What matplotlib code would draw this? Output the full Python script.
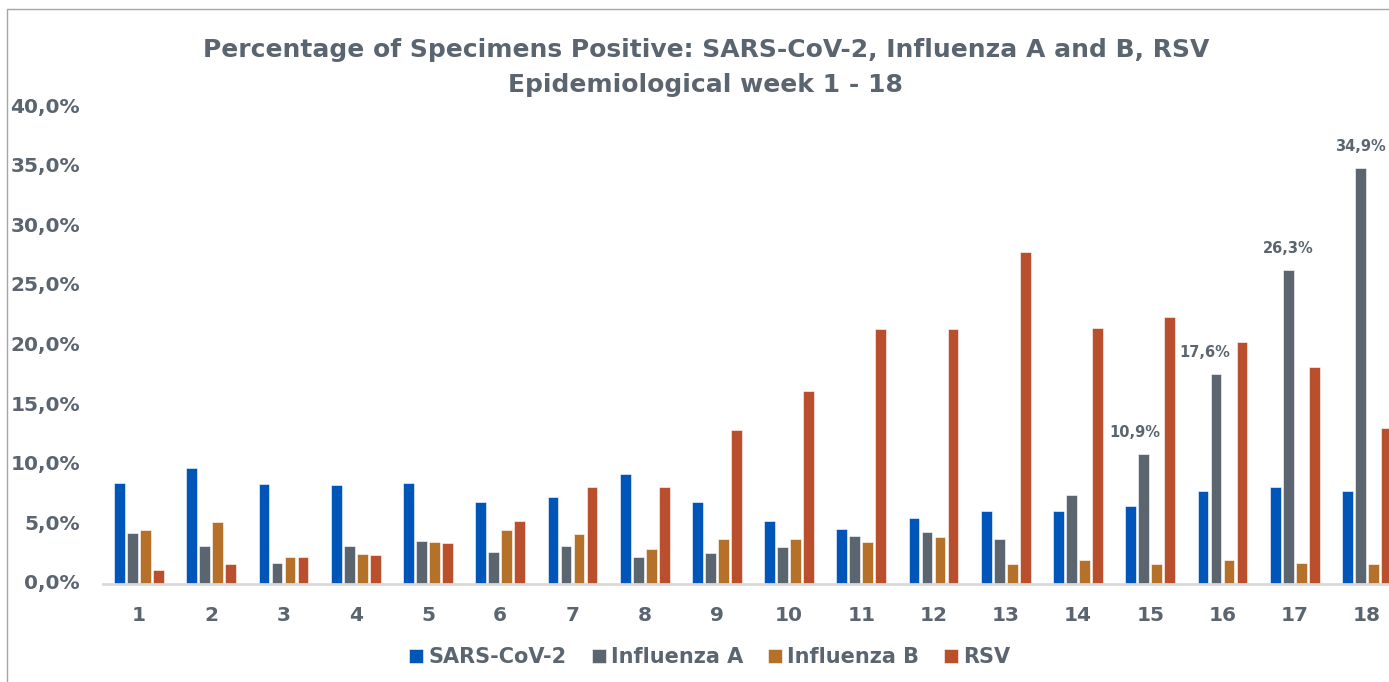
import numpy as np
import matplotlib
matplotlib.use("Agg")
import matplotlib.pyplot as plt
import matplotlib.transforms as mtransforms
from matplotlib.patches import Rectangle

weeks = [str(w) for w in range(1, 19)]
sars = [8.5, 9.7, 8.4, 8.3, 8.5, 6.9, 7.3, 9.2, 6.9, 5.3, 4.6, 5.5, 6.1, 6.1, 6.5, 7.8, 8.1, 7.8]
flu_a = [4.3, 3.2, 1.8, 3.2, 3.6, 2.7, 3.2, 2.3, 2.6, 3.1, 4.0, 4.4, 3.8, 7.5, 10.9, 17.6, 26.3, 34.9]
flu_b = [4.5, 5.2, 2.3, 2.5, 3.5, 4.5, 4.2, 2.9, 3.8, 3.8, 3.5, 3.9, 1.7, 2.0, 1.7, 2.0, 1.8, 1.7]
rsv = [1.2, 1.7, 2.3, 2.4, 3.4, 5.3, 8.1, 8.1, 12.9, 16.2, 21.4, 21.4, 27.8, 21.5, 22.4, 20.3, 18.2, 13.1]
series_names = ["SARS-CoV-2", "Influenza A", "Influenza B", "RSV"]
# weeks (0-based) with a value label on the Influenza A bar
label_weeks = [14, 15, 16, 17]
label_shift = [-0.13, -0.16, 0.0, 0.0]

colors = ["#0055B8", "#5B6570", "#B5702A", "#B94F2D"]
text_col = "#5B6570"
plt.rcParams["font.family"] = "DejaVu Sans"
plt.rcParams["font.weight"] = "bold"

fig = plt.figure(figsize=(13.89, 6.82), dpi=100)
W, H = 1389, 682
ax = fig.add_axes([103 / W, 1 - 584 / H, 1300 / W, 477 / H])

x = np.arange(1, 19)
slot = 0.18
bw = 0.15
for i, (vals, name) in enumerate(zip([sars, flu_a, flu_b, rsv], series_names)):
    ax.bar(x + (i - 1.5) * slot, vals, width=bw, color=colors[i], label=name,
           edgecolor="white", linewidth=0.4)

for k, idx in enumerate(label_weeks):
    v = flu_a[idx]
    ax.text(x[idx] - 0.5 * slot + label_shift[k], v + 1.2, f"{v:.1f}%".replace(".", ","),
            ha="center", va="bottom", fontsize=10.5, color=text_col, fontweight="bold")

ax.set_xlim(0.5, 18.5)
ax.set_ylim(0, 40)
ax.set_yticks(np.arange(0, 41, 5))
ax.set_yticklabels([f"{t:.1f}%".replace(".", ",") for t in np.arange(0, 41, 5)])
ax.set_xticks(x)
ax.set_xticklabels(weeks)
ax.tick_params(axis="both", length=0, colors=text_col, labelsize=14.5)
ax.tick_params(axis="x", pad=15.5)
ax.tick_params(axis="y", pad=16.5)
up = mtransforms.ScaledTranslation(0, 2 / 100, fig.dpi_scale_trans)
for lab in ax.get_yticklabels():
    lab.set_transform(lab.get_transform() + up)
for s in ["top", "right", "left"]:
    ax.spines[s].set_visible(False)
ax.spines["bottom"].set_color("#D9D9D9")
ax.spines["bottom"].set_linewidth(2)

fig.text(706 / W, 1 - 57 / H, "Percentage of Specimens Positive: SARS-CoV-2, Influenza A and B, RSV",
         ha="center", va="baseline", fontsize=18, color=text_col, fontweight="bold")
fig.text(705 / W, 1 - 92 / H, "Epidemiological week 1 - 18",
         ha="center", va="baseline", fontsize=18, color=text_col, fontweight="bold")

leg = fig.legend(loc="center", bbox_to_anchor=(710 / W, 1 - 657 / H), ncol=4, frameon=False,
                 fontsize=15, handlelength=0.67, handleheight=0.67, handletextpad=0.25,
                 columnspacing=1.2, borderpad=0)
for t in leg.get_texts():
    t.set_color(text_col)

fig.patches.append(Rectangle((7 / W, -0.1), 1.2, 1 - 9 / H + 0.1, transform=fig.transFigure,
                             fill=False, edgecolor="#A6A6A6", linewidth=1))

fig.savefig("out.png", dpi=100)
